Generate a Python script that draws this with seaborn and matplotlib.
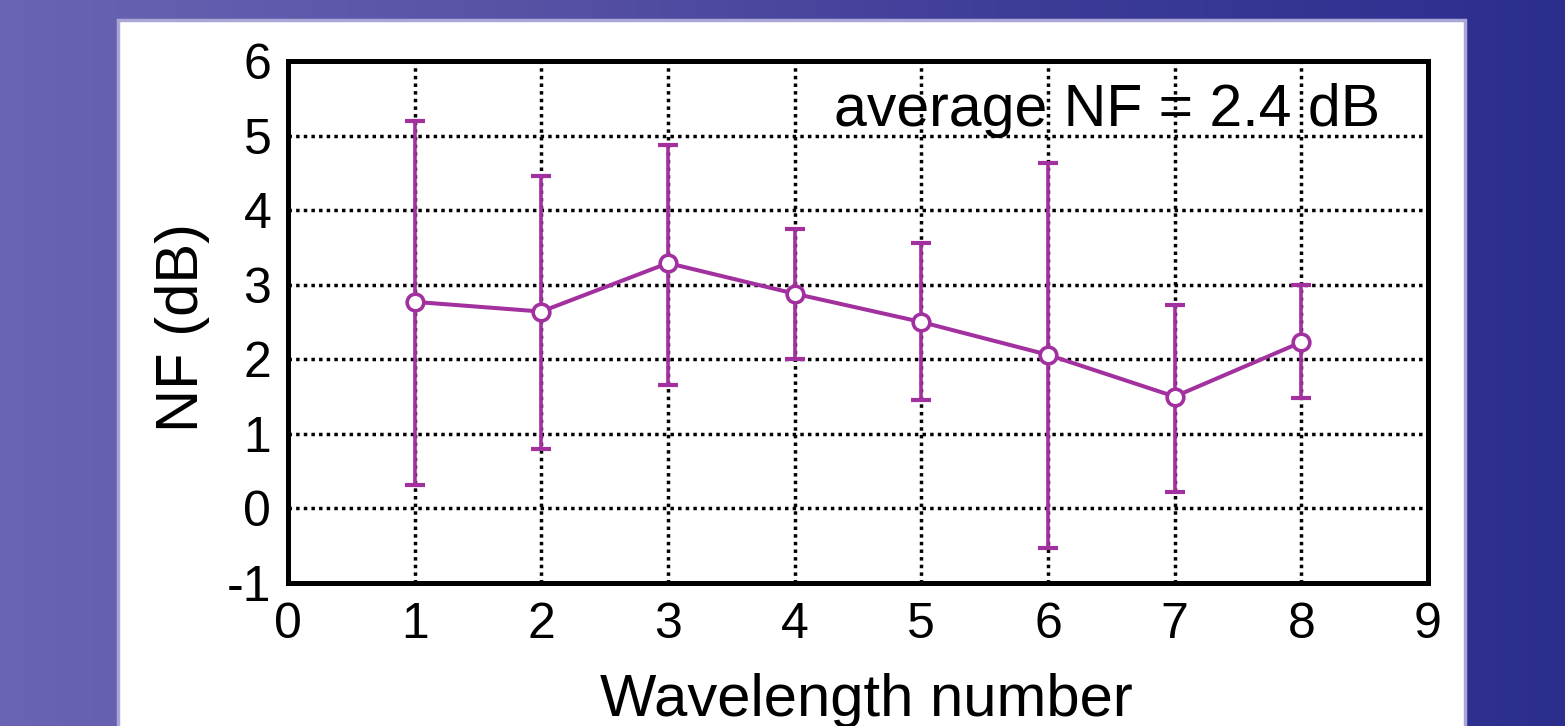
import numpy as np
import pandas as pd
import matplotlib
matplotlib.use("Agg")
import matplotlib.pyplot as plt
import seaborn as sns
from matplotlib.colors import LinearSegmentedColormap
from matplotlib.patches import Rectangle

# Noise figure per wavelength channel: mean and spread (upper / lower ends)
wavelength = [1, 2, 3, 4, 5, 6, 7, 8]
nf_mean = [2.77, 2.64, 3.29, 2.88, 2.50, 2.06, 1.50, 2.23]
nf_upper = [5.20, 4.46, 4.87, 3.75, 3.56, 4.63, 2.73, 3.00]
nf_lower = [0.32, 0.80, 1.66, 2.00, 1.46, -0.53, 0.22, 1.48]
x_ticks = list(range(0, 10))
y_ticks = list(range(-1, 7))
avg_label = "average NF = 2.4 dB"
x_title = "Wavelength number"
y_title = "NF (dB)"

purple = "#a2309e"

sns.set_theme(style="white")
plt.rcParams["font.family"] = ["Liberation Sans", "DejaVu Sans"]
plt.rcParams["axes.unicode_minus"] = False

W, H = 1565, 726
fig = plt.figure(figsize=(W / 100, H / 100), dpi=100)

# slide-style backdrop: blue-violet gradient with a white card
bg = fig.add_axes([0, 0, 1, 1], zorder=0)
grad = np.linspace(0, 1, 512).reshape(1, -1)
cmap = LinearSegmentedColormap.from_list("bg", ["#6a64b4", "#5752a4", "#3c3b98", "#2c2e8e"])
bg.imshow(grad, aspect="auto", cmap=cmap, extent=[0, 1, 0, 1])
bg.add_patch(Rectangle((118 / W, -0.05), (1465 - 118) / W, 1.05 - 20 / H,
                       facecolor="white", edgecolor="#aaa6d8", lw=2.5))
bg.set_xlim(0, 1)
bg.set_ylim(0, 1)
bg.set_axis_off()

ax = fig.add_axes([288 / W, 1 - 583 / H, (1428 - 288) / W, (583 - 61) / H], zorder=1)
ax.set_facecolor("white")

df = pd.DataFrame({"wavelength": wavelength, "nf": nf_mean})
yerr = [np.subtract(nf_mean, nf_lower), np.subtract(nf_upper, nf_mean)]
ax.errorbar(wavelength, nf_mean, yerr=yerr, fmt="none", ecolor=purple,
            elinewidth=2.6, capsize=7, capthick=3.0, zorder=3)
sns.lineplot(data=df, x="wavelength", y="nf", ax=ax, color=purple, lw=2.9,
             marker="o", markersize=12, markerfacecolor="white",
             markeredgecolor=purple, markeredgewidth=2.6, zorder=4)

ax.set_xlim(0, 9)
ax.set_ylim(-1, 6)
ax.set_xticks(x_ticks)
ax.set_yticks(y_ticks)
ax.grid(True, color="black", linestyle=(0, (1.0, 1.2)), lw=2.5, zorder=1)
for s in ax.spines.values():
    s.set_color("black")
    s.set_linewidth(3.6)
ax.tick_params(direction="in", length=6, width=1.5, colors="black",
               labelsize=36, pad=12)
ax.tick_params(axis="x", pad=14)

ax.set_xlabel(x_title, fontsize=43, color="black")
ax.set_ylabel(y_title, fontsize=43, color="black")
ax.xaxis.set_label_coords(0.507, -0.172)
ax.yaxis.set_label_coords(-0.068, 0.49)

ax.text(0.958, 0.875, avg_label, transform=ax.transAxes, ha="right",
        va="baseline", fontsize=42.5, color="black", zorder=5)

fig.savefig("out.png", dpi=100)
